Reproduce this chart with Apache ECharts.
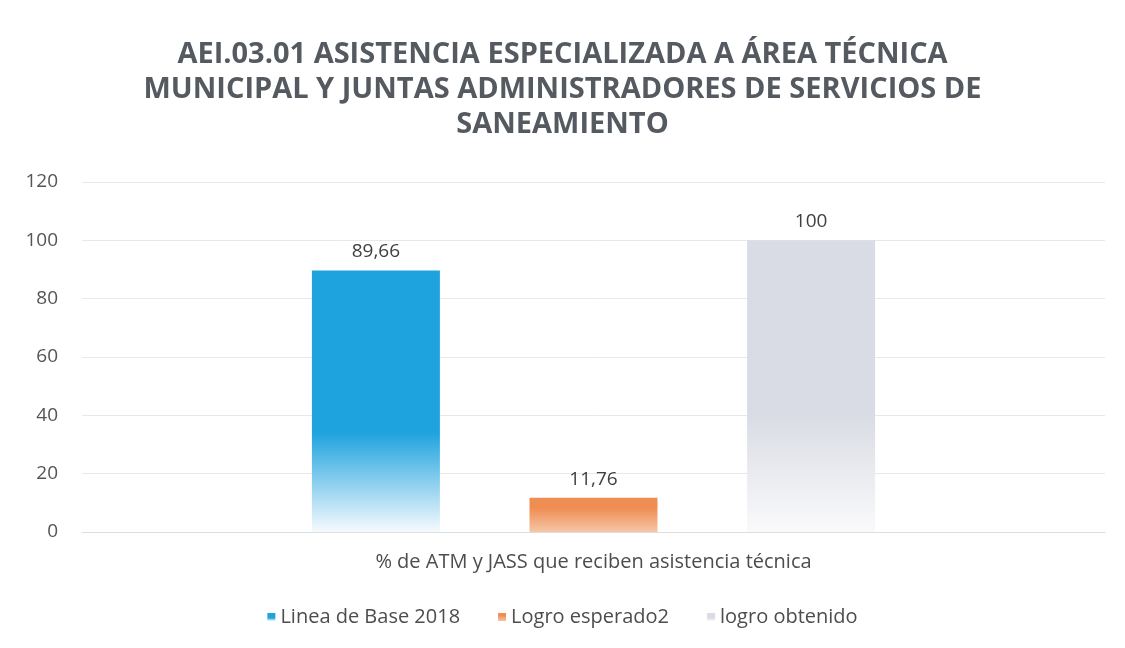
<!DOCTYPE html>
<html>
<head>
<meta charset="utf-8">
<script src="https://cdn.jsdelivr.net/npm/echarts@6/dist/echarts.min.js"></script>
<style>
  html, body { margin: 0; padding: 0; background: #fff; }
  #chart { width: 1125px; height: 648px; }
</style>
</head>
<body>
<div id="chart"></div>
<script>
const categories = ['% de ATM y JASS que reciben asistencia técnica'];
const seriesNames = ['Linea de Base 2018', 'Logro esperado2', 'logro obtenido'];
const lineaBase = [89.66];
const logroEsperado = [11.76];
const logroObtenido = [100];
const yTicks = [0, 20, 40, 60, 80, 100, 120];

const fontFam = '"Open Sans", "Liberation Sans", sans-serif';

// vertical fade towards the axis, like the scanned original
function fade (top, bottom, start) {
  return new echarts.graphic.LinearGradient(0, 0, 0, 1, [
    { offset: 0, color: top },
    { offset: start, color: top },
    { offset: 1, color: bottom }
  ]);
}

const colors = [
  fade('#1fa3df', '#f6fafd', 0.62),
  fade('#ef8d53', '#f5c6a6', 0.3),
  fade('#d9dce4', '#fafafb', 0.6)
];
const legendColors = ['#3aace0', '#ef9a62', '#e2e3e8'];
const values = [lineaBase, logroEsperado, logroObtenido];

const chart = echarts.init(document.getElementById('chart'));
chart.setOption({
  animation: false,
  color: legendColors,
  title: {
    text: 'AEI.03.01 ASISTENCIA ESPECIALIZADA A ÁREA TÉCNICA\nMUNICIPAL Y JUNTAS ADMINISTRADORES DE SERVICIOS DE\nSANEAMIENTO',
    left: 'center',
    top: 32,
    textStyle: {
      fontFamily: fontFam,
      fontSize: 29,
      fontWeight: 'bold',
      color: '#555a60',
      lineHeight: 35
    }
  },
  grid: {
    left: 82,
    right: 20,
    top: 182,
    bottom: 116
  },
  legend: {
    bottom: 16,
    left: 'center',
    itemWidth: 8,
    itemHeight: 8,
    itemGap: 38,
    icon: 'rect',
    textStyle: { fontFamily: fontFam, fontSize: 20, color: '#4d4d4d' },
    data: seriesNames
  },
  xAxis: {
    type: 'category',
    data: categories,
    axisLine: { lineStyle: { color: '#dedede' } },
    axisTick: { show: false },
    axisLabel: { fontFamily: fontFam, fontSize: 20, color: '#4d4d4d', margin: 20 }
  },
  yAxis: {
    type: 'value',
    min: yTicks[0],
    max: yTicks[yTicks.length - 1],
    interval: 20,
    axisLine: { show: false },
    axisTick: { show: false },
    axisLabel: { fontFamily: fontFam, fontSize: 19, color: '#555', margin: 24 },
    splitLine: { lineStyle: { color: '#e8e8e8' } }
  },
  series: seriesNames.map((name, i) => ({
    name: name,
    type: 'bar',
    data: values[i],
    barWidth: 128,
    barGap: '70%',
    itemStyle: { color: colors[i] },
    label: {
      show: true,
      position: 'top',
      distance: 9,
      fontFamily: fontFam,
      fontSize: 19,
      color: '#404040',
      formatter: p => String(p.value).replace('.', ',')
    }
  }))
});
</script>
</body>
</html>
